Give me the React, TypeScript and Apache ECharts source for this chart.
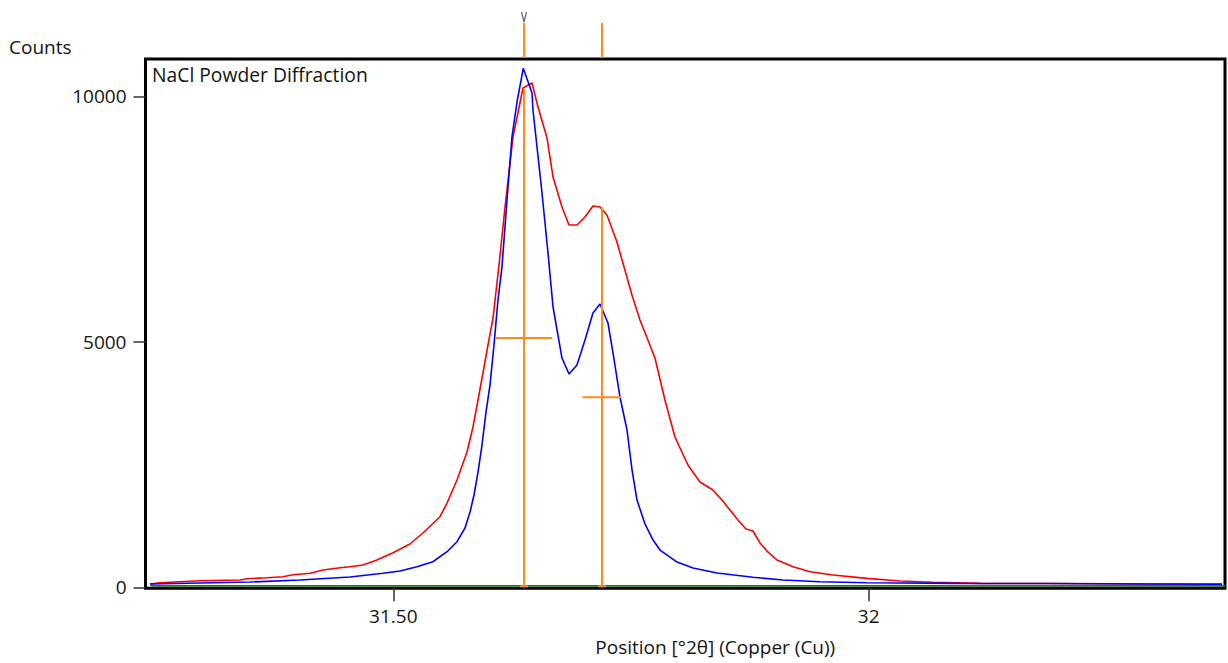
import React, { useEffect, useRef } from "react";
import * as echarts from "echarts";

// ---- data ----
const blueX = [31.2441, 31.2967, 31.3493, 31.4019, 31.4545, 31.4892, 31.507, 31.5249, 31.5417, 31.5565, 31.567, 31.5754, 31.5807, 31.5849, 31.5891, 31.5933, 31.5975, 31.6017, 31.6059, 31.6101, 31.6143, 31.6196, 31.6248, 31.6301, 31.6367, 31.6459, 31.6469, 31.6564, 31.6627, 31.668, 31.6774, 31.6848, 31.6932, 31.7016, 31.71, 31.7174, 31.7258, 31.7311, 31.7384, 31.7458, 31.7511, 31.7563, 31.7647, 31.7732, 31.7805, 31.7984, 31.8152, 31.8405, 31.8783, 31.9099, 31.9488, 31.9982, 32.0929, 32.1907, 32.2959, 32.3716];
const blueY = [67, 88, 108, 149, 210, 285, 332, 420, 521, 725, 929, 1208, 1534, 1880, 2348, 2898, 3570, 4120, 4935, 5851, 6524, 7888, 9171, 9884, 10570, 10068, 9721, 8031, 6808, 5709, 4670, 4344, 4527, 5036, 5586, 5770, 5383, 4772, 3876, 3204, 2389, 1778, 1290, 963, 759, 515, 393, 291, 204, 149, 114, 94, 81, 77, 67, 61];

const redX = [31.2441, 31.2546, 31.2967, 31.3388, 31.3462, 31.3672, 31.384, 31.3945, 31.4124, 31.4261, 31.4439, 31.4545, 31.4681, 31.4828, 31.4997, 31.5175, 31.5312, 31.5491, 31.5565, 31.567, 31.5775, 31.5838, 31.5891, 31.5943, 31.5996, 31.6049, 31.6112, 31.6175, 31.6259, 31.6364, 31.6459, 31.6522, 31.6617, 31.668, 31.6774, 31.6848, 31.6932, 31.7016, 31.71, 31.7174, 31.7247, 31.7352, 31.7436, 31.751, 31.7594, 31.7678, 31.7752, 31.7857, 31.7962, 31.8099, 31.8225, 31.8362, 31.8457, 31.8625, 31.8709, 31.8783, 31.8857, 31.893, 31.9036, 31.9204, 31.9383, 31.9625, 31.9982, 32.0329, 32.0676, 32.117, 32.1907, 32.2433, 32.2959, 32.3716];
const redY = [67, 94, 134, 149, 175, 196, 216, 257, 285, 352, 400, 420, 454, 556, 705, 882, 1106, 1438, 1717, 2185, 2756, 3265, 3815, 4365, 4935, 5485, 6566, 7745, 9171, 10169, 10270, 9781, 9150, 8356, 7745, 7378, 7378, 7541, 7766, 7745, 7582, 7032, 6462, 5953, 5444, 5036, 4670, 3815, 3061, 2491, 2145, 1982, 1778, 1370, 1187, 1147, 902, 739, 556, 420, 318, 251, 183, 128, 102, 81, 77, 73, 67, 67];

const baselineX = [31.2446, 32.3747];
const baselineY = [30, 30];

// reference peaks: position, height, FWHM
const peakPos = [31.6375, 31.7195];
const peakHeight = [10160, 7745];
const peakFwhm = [0.0589, 0.0411];

const xTickValues = [31.5, 32];
const xTickLabels = ["31.50", "32"];
const yTickValues = [0, 5000, 10000];
const yTickLabels = ["0", "5000", "10000"];

const X_MIN = 31.2394;
const X_MAX = 32.3747;
const Y_MIN = -20;
const Y_MAX = 10760;

const FONT = "'Open Sans', 'Noto Sans', sans-serif";
const TEXT_COLOR = "#141414";
const ORANGE = "#ff8c1a";

export default function App() {
  const ref = useRef<HTMLDivElement>(null);

  useEffect(() => {
    document.body.style.margin = "0";
    if (!ref.current) return;
    const chart = echarts.init(ref.current, undefined, { renderer: "svg" });

    const zip = (xs: number[], ys: number[]) => xs.map((x, i) => [x, ys[i]]);
    const peaks = peakPos.map((p, i) => [p, peakHeight[i], peakFwhm[i]]);
    const pick = (vals: number[], labels: string[]) => (v: number) => {
      const i = vals.findIndex((t) => Math.abs(t - v) < 1e-9);
      return i >= 0 ? labels[i] : "";
    };

    const option: any = {
      animation: false,
      backgroundColor: "#ffffff",
      grid: {
        left: 145.5,
        right: 3,
        top: 59,
        bottom: 74.7,
        show: true,
        borderColor: "#000",
        borderWidth: 3,
        containLabel: false,
      },
      xAxis: {
        type: "value",
        min: X_MIN,
        max: X_MAX,
        name: "Position [°2θ] (Copper (Cu))",
        nameLocation: "middle",
        nameGap: 49,
        nameTextStyle: {
          fontFamily: FONT,
          fontSize: 19,
          color: TEXT_COLOR,
          padding: [0, 0, 0, 60],
        },
        axisLine: { show: false },
        splitLine: { show: false },
        axisTick: {
          show: true,
          inside: false,
          length: 14,
          customValues: xTickValues,
          lineStyle: { color: "#333", width: 1.5 },
        },
        axisLabel: {
          customValues: xTickValues,
          margin: 18,
          fontFamily: FONT,
          fontSize: 19,
          color: TEXT_COLOR,
          formatter: pick(xTickValues, xTickLabels),
        },
      },
      yAxis: {
        type: "value",
        min: Y_MIN,
        max: Y_MAX,
        axisLine: { show: false },
        splitLine: { show: false },
        axisTick: {
          show: true,
          inside: false,
          length: 12,
          customValues: yTickValues,
          lineStyle: { color: "#333", width: 1.5 },
        },
        axisLabel: {
          customValues: yTickValues,
          margin: 19,
          fontFamily: FONT,
          fontSize: 19,
          color: TEXT_COLOR,
          formatter: pick(yTickValues, yTickLabels),
        },
      },
      graphic: [
        {
          type: "text",
          x: 9,
          y: 47,
          style: {
            text: "Counts",
            fontFamily: FONT,
            fontSize: 19,
            fill: TEXT_COLOR,
            textVerticalAlign: "middle",
          },
        },
        {
          type: "text",
          x: 152,
          y: 74,
          style: {
            text: "NaCl Powder Diffraction",
            fontFamily: FONT,
            fontSize: 19.3,
            fill: TEXT_COLOR,
            textVerticalAlign: "middle",
          },
        },
      ],
      series: [
        {
          type: "line",
          name: "Observed",
          data: zip(redX, redY),
          showSymbol: false,
          lineStyle: { color: "#ff0000", width: 1.6 },
          itemStyle: { color: "#ff0000" },
          z: 2,
        },
        {
          type: "line",
          name: "Calculated",
          data: zip(blueX, blueY),
          showSymbol: false,
          lineStyle: { color: "#0000ff", width: 1.6 },
          itemStyle: { color: "#0000ff" },
          z: 3,
        },
        {
          type: "line",
          name: "Background",
          data: zip(baselineX, baselineY),
          showSymbol: false,
          lineStyle: { color: "#1e7d1e", width: 1.6 },
          itemStyle: { color: "#1e7d1e" },
          z: 4,
        },
        {
          type: "custom",
          name: "Peaks",
          data: peaks,
          clip: false,
          z: 5,
          renderItem: (params: any, api: any) => {
            const x = api.value(0);
            const h = api.value(1);
            const w = api.value(2);
            const base = api.coord([x, 0]);
            const top = api.coord([x, h]);
            const frameTop = api.coord([x, Y_MAX]);
            const markTop = frameTop[1] - 36;
            const hl = api.coord([x - w / 2, h / 2]);
            const hr = api.coord([x + w / 2, h / 2]);
            const st = { stroke: ORANGE, lineWidth: 2 };
            const children: any[] = [
              { type: "line", shape: { x1: base[0], y1: base[1], x2: top[0], y2: top[1] }, style: st },
              { type: "line", shape: { x1: base[0] - 4, y1: base[1] - 1, x2: base[0] + 4, y2: base[1] - 1 }, style: st },
              { type: "line", shape: { x1: hl[0], y1: hl[1], x2: hr[0], y2: hr[1] }, style: st },
              { type: "line", shape: { x1: frameTop[0], y1: frameTop[1] - 1, x2: frameTop[0], y2: markTop }, style: st },
            ];
            if (params.dataIndex === 0) {
              children.push({
                type: "polyline",
                shape: {
                  points: [
                    [frameTop[0] - 2.5, markTop - 11],
                    [frameTop[0], markTop - 1],
                    [frameTop[0] + 2.5, markTop - 11],
                  ],
                },
                style: { stroke: "#666", lineWidth: 1.2, fill: "none" },
              });
            }
            return { type: "group", children };
          },
        },
      ],
    };

    chart.setOption(option);
    return () => chart.dispose();
  }, []);

  return (
    <div
      ref={ref}
      style={{ position: "fixed", left: 0, top: 0, width: 1228, height: 663, background: "#fff" }}
    />
  );
}
